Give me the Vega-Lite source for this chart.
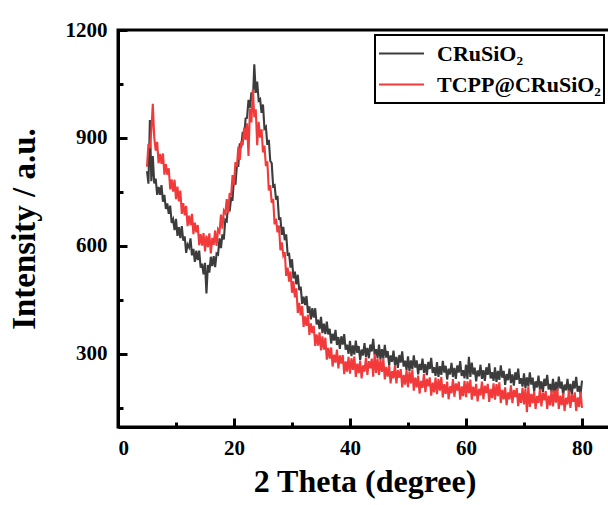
{
  "$schema": "https://vega.github.io/schema/vega-lite/v6.json",
  "width": 493,
  "height": 397,
  "autosize": {"type": "none"},
  "padding": {"left": 118, "top": 30, "right": 0, "bottom": 78},
  "background": "white",
  "config": {
    "view": {"stroke": "black", "strokeWidth": 3},
    "font": "Liberation Serif",
    "axis": {
      "grid": false,
      "domainColor": "black",
      "domainWidth": 3,
      "tickColor": "black",
      "tickWidth": 3,
      "labelFont": "Liberation Serif",
      "labelFontWeight": "bold",
      "labelFontSize": 21,
      "labelColor": "black",
      "titleFont": "Liberation Serif",
      "titleFontWeight": "bold",
      "titleFontSize": 32,
      "titleColor": "black"
    },
    "legend": {
      "orient": "none",
      "legendX": 257,
      "legendY": 5,
      "title": null,
      "symbolType": "stroke",
      "symbolSize": 2025,
      "symbolStrokeWidth": 2,
      "labelFont": "Liberation Serif",
      "labelFontWeight": "bold",
      "labelFontSize": 22,
      "labelColor": "black",
      "labelOffset": 12,
      "labelLimit": 400,
      "strokeColor": "black",
      "strokeWidth": 2,
      "padding": 3,
      "clipHeight": 31,
      "rowPadding": 0
    }
  },
  "datasets": {
    "crusio2": [
      {"x":5,"y":808},{"x":5.25,"y":773},{"x":5.5,"y":950},{"x":5.75,"y":780},{"x":6,"y":850},{"x":6.25,"y":774},{"x":6.5,"y":787},{"x":6.75,"y":742},{"x":7,"y":764},{"x":7.25,"y":742},{"x":7.5,"y":769},{"x":7.75,"y":723},{"x":8,"y":742},{"x":8.25,"y":703},{"x":8.5,"y":718},{"x":8.75,"y":689},{"x":9,"y":712},{"x":9.25,"y":664},{"x":9.5,"y":674},{"x":9.75,"y":644},{"x":10,"y":675},{"x":10.25,"y":628},{"x":10.5,"y":652},{"x":10.75,"y":622},{"x":11,"y":655},{"x":11.25,"y":615},{"x":11.5,"y":627},{"x":11.75,"y":581},{"x":12,"y":604},{"x":12.25,"y":596},{"x":12.5,"y":621},{"x":12.75,"y":574},{"x":13,"y":592},{"x":13.25,"y":556},{"x":13.5,"y":587},{"x":13.75,"y":561},{"x":14,"y":587},{"x":14.25,"y":540},{"x":14.5,"y":551},{"x":14.75,"y":521},{"x":15,"y":553},{"x":15.25,"y":468},{"x":15.5,"y":547},{"x":15.75,"y":526},{"x":16,"y":570},{"x":16.25,"y":544},{"x":16.5,"y":572},{"x":16.75,"y":541},{"x":17,"y":579},{"x":17.25,"y":576},{"x":17.5,"y":621},{"x":17.75,"y":594},{"x":18,"y":632},{"x":18.25,"y":618},{"x":18.5,"y":673},{"x":18.75,"y":669},{"x":19,"y":717},{"x":19.25,"y":696},{"x":19.5,"y":733},{"x":19.75,"y":730},{"x":20,"y":788},{"x":20.25,"y":770},{"x":20.5,"y":824},{"x":20.75,"y":823},{"x":21,"y":885},{"x":21.25,"y":874},{"x":21.5,"y":917},{"x":21.75,"y":902},{"x":22,"y":954},{"x":22.25,"y":956},{"x":22.5,"y":1006},{"x":22.75,"y":984},{"x":23,"y":1027},{"x":23.25,"y":1002},{"x":23.5,"y":1105},{"x":23.75,"y":1025},{"x":24,"y":1057},{"x":24.25,"y":1004},{"x":24.5,"y":1008},{"x":24.75,"y":970},{"x":25,"y":993},{"x":25.25,"y":926},{"x":25.5,"y":931},{"x":25.75,"y":881},{"x":26,"y":895},{"x":26.25,"y":836},{"x":26.5,"y":830},{"x":26.75,"y":766},{"x":27,"y":769},{"x":27.25,"y":729},{"x":27.5,"y":739},{"x":27.75,"y":676},{"x":28,"y":677},{"x":28.25,"y":631},{"x":28.5,"y":653},{"x":28.75,"y":616},{"x":29,"y":632},{"x":29.25,"y":576},{"x":29.5,"y":578},{"x":29.75,"y":540},{"x":30,"y":563},{"x":30.25,"y":510},{"x":30.5,"y":529},{"x":30.75,"y":493},{"x":31,"y":520},{"x":31.25,"y":477},{"x":31.5,"y":487},{"x":31.75,"y":439},{"x":32,"y":459},{"x":32.25,"y":436},{"x":32.5,"y":461},{"x":32.75,"y":414},{"x":33,"y":432},{"x":33.25,"y":396},{"x":33.5,"y":427},{"x":33.75,"y":401},{"x":34,"y":427},{"x":34.25,"y":382},{"x":34.5,"y":395},{"x":34.75,"y":369},{"x":35,"y":403},{"x":35.25,"y":358},{"x":35.5,"y":384},{"x":35.75,"y":355},{"x":36,"y":390},{"x":36.25,"y":354},{"x":36.5,"y":370},{"x":36.75,"y":329},{"x":37,"y":356},{"x":37.25,"y":337},{"x":37.5,"y":367},{"x":37.75,"y":325},{"x":38,"y":347},{"x":38.25,"y":314},{"x":38.5,"y":349},{"x":38.75,"y":326},{"x":39,"y":355},{"x":39.25,"y":312},{"x":39.5,"y":326},{"x":39.75,"y":300},{"x":40,"y":336},{"x":40.25,"y":294},{"x":40.5,"y":324},{"x":40.75,"y":298},{"x":41,"y":337},{"x":41.25,"y":303},{"x":41.5,"y":322},{"x":41.75,"y":283},{"x":42,"y":312},{"x":42.25,"y":296},{"x":42.5,"y":330},{"x":42.75,"y":292},{"x":43,"y":317},{"x":43.25,"y":288},{"x":43.5,"y":326},{"x":43.75,"y":307},{"x":44,"y":342},{"x":44.25,"y":297},{"x":44.5,"y":313},{"x":44.75,"y":289},{"x":45,"y":326},{"x":45.25,"y":284},{"x":45.5,"y":313},{"x":45.75,"y":287},{"x":46,"y":325},{"x":46.25,"y":290},{"x":46.5,"y":308},{"x":46.75,"y":268},{"x":47,"y":296},{"x":47.25,"y":278},{"x":47.5,"y":309},{"x":47.75,"y":269},{"x":48,"y":292},{"x":48.25,"y":261},{"x":48.5,"y":297},{"x":48.75,"y":276},{"x":49,"y":307},{"x":49.25,"y":265},{"x":49.5,"y":281},{"x":49.75,"y":256},{"x":50,"y":293},{"x":50.25,"y":252},{"x":50.5,"y":282},{"x":50.75,"y":257},{"x":51,"y":296},{"x":51.25,"y":262},{"x":51.5,"y":282},{"x":51.75,"y":243},{"x":52,"y":272},{"x":52.25,"y":255},{"x":52.5,"y":287},{"x":52.75,"y":247},{"x":53,"y":272},{"x":53.25,"y":241},{"x":53.5,"y":278},{"x":53.75,"y":258},{"x":54,"y":289},{"x":54.25,"y":247},{"x":54.5,"y":263},{"x":54.75,"y":239},{"x":55,"y":277},{"x":55.25,"y":236},{"x":55.5,"y":266},{"x":55.75,"y":242},{"x":56,"y":281},{"x":56.25,"y":248},{"x":56.5,"y":267},{"x":56.75,"y":229},{"x":57,"y":259},{"x":57.25,"y":243},{"x":57.5,"y":275},{"x":57.75,"y":236},{"x":58,"y":261},{"x":58.25,"y":231},{"x":58.5,"y":268},{"x":58.75,"y":248},{"x":59,"y":280},{"x":59.25,"y":239},{"x":59.5,"y":255},{"x":59.75,"y":232},{"x":60,"y":270},{"x":60.25,"y":230},{"x":60.5,"y":292},{"x":60.75,"y":236},{"x":61,"y":276},{"x":61.25,"y":243},{"x":61.5,"y":262},{"x":61.75,"y":224},{"x":62,"y":254},{"x":62.25,"y":238},{"x":62.5,"y":270},{"x":62.75,"y":231},{"x":63,"y":255},{"x":63.25,"y":225},{"x":63.5,"y":263},{"x":63.75,"y":242},{"x":64,"y":274},{"x":64.25,"y":232},{"x":64.5,"y":249},{"x":64.75,"y":225},{"x":65,"y":263},{"x":65.25,"y":222},{"x":65.5,"y":253},{"x":65.75,"y":228},{"x":66,"y":268},{"x":66.25,"y":234},{"x":66.5,"y":253},{"x":66.75,"y":214},{"x":67,"y":244},{"x":67.25,"y":227},{"x":67.5,"y":259},{"x":67.75,"y":219},{"x":68,"y":243},{"x":68.25,"y":212},{"x":68.5,"y":249},{"x":68.75,"y":228},{"x":69,"y":259},{"x":69.25,"y":217},{"x":69.5,"y":233},{"x":69.75,"y":209},{"x":70,"y":246},{"x":70.25,"y":205},{"x":70.5,"y":235},{"x":70.75,"y":210},{"x":71,"y":249},{"x":71.25,"y":215},{"x":71.5,"y":234},{"x":71.75,"y":195},{"x":72,"y":224},{"x":72.25,"y":207},{"x":72.5,"y":240},{"x":72.75,"y":200},{"x":73,"y":224},{"x":73.25,"y":194},{"x":73.5,"y":231},{"x":73.75,"y":211},{"x":74,"y":242},{"x":74.25,"y":201},{"x":74.5,"y":217},{"x":74.75,"y":194},{"x":75,"y":231},{"x":75.25,"y":191},{"x":75.5,"y":222},{"x":75.75,"y":197},{"x":76,"y":237},{"x":76.25,"y":204},{"x":76.5,"y":223},{"x":76.75,"y":185},{"x":77,"y":215},{"x":77.25,"y":199},{"x":77.5,"y":231},{"x":77.75,"y":192},{"x":78,"y":217},{"x":78.25,"y":187},{"x":78.5,"y":225},{"x":78.75,"y":204},{"x":79,"y":236},{"x":79.25,"y":195},{"x":79.5,"y":211},{"x":79.75,"y":188},{"x":80,"y":226}
    ],
    "tcpp": [
      {"x":5,"y":820},{"x":5.25,"y":884},{"x":5.5,"y":872},{"x":5.75,"y":920},{"x":6,"y":995},{"x":6.25,"y":901},{"x":6.5,"y":865},{"x":6.75,"y":889},{"x":7,"y":830},{"x":7.25,"y":856},{"x":7.5,"y":828},{"x":7.75,"y":857},{"x":8,"y":798},{"x":8.25,"y":827},{"x":8.5,"y":798},{"x":8.75,"y":816},{"x":9,"y":757},{"x":9.25,"y":785},{"x":9.5,"y":751},{"x":9.75,"y":784},{"x":10,"y":730},{"x":10.25,"y":765},{"x":10.5,"y":724},{"x":10.75,"y":754},{"x":11,"y":689},{"x":11.25,"y":719},{"x":11.5,"y":685},{"x":11.75,"y":711},{"x":12,"y":655},{"x":12.25,"y":684},{"x":12.5,"y":658},{"x":12.75,"y":689},{"x":13,"y":633},{"x":13.25,"y":665},{"x":13.5,"y":638},{"x":13.75,"y":658},{"x":14,"y":602},{"x":14.25,"y":633},{"x":14.5,"y":601},{"x":14.75,"y":636},{"x":15,"y":585},{"x":15.25,"y":629},{"x":15.5,"y":597},{"x":15.75,"y":635},{"x":16,"y":579},{"x":16.25,"y":622},{"x":16.5,"y":603},{"x":16.75,"y":643},{"x":17,"y":600},{"x":17.25,"y":646},{"x":17.5,"y":638},{"x":17.75,"y":687},{"x":18,"y":648},{"x":18.25,"y":698},{"x":18.5,"y":691},{"x":18.75,"y":730},{"x":19,"y":692},{"x":19.25,"y":747},{"x":19.5,"y":738},{"x":19.75,"y":797},{"x":20,"y":770},{"x":20.25,"y":833},{"x":20.5,"y":820},{"x":20.75,"y":876},{"x":21,"y":839},{"x":21.25,"y":891},{"x":21.5,"y":880},{"x":21.75,"y":929},{"x":22,"y":895},{"x":22.25,"y":941},{"x":22.5,"y":850},{"x":22.75,"y":982},{"x":23,"y":943},{"x":23.25,"y":1035},{"x":23.5,"y":958},{"x":23.75,"y":980},{"x":24,"y":880},{"x":24.25,"y":945},{"x":24.5,"y":901},{"x":24.75,"y":924},{"x":25,"y":860},{"x":25.25,"y":879},{"x":25.5,"y":822},{"x":25.75,"y":835},{"x":26,"y":754},{"x":26.25,"y":769},{"x":26.5,"y":720},{"x":26.75,"y":731},{"x":27,"y":660},{"x":27.25,"y":676},{"x":27.5,"y":638},{"x":27.75,"y":657},{"x":28,"y":588},{"x":28.25,"y":610},{"x":28.5,"y":574},{"x":28.75,"y":583},{"x":29,"y":517},{"x":29.25,"y":540},{"x":29.5,"y":501},{"x":29.75,"y":529},{"x":30,"y":470},{"x":30.25,"y":502},{"x":30.5,"y":457},{"x":30.75,"y":482},{"x":31,"y":414},{"x":31.25,"y":442},{"x":31.5,"y":407},{"x":31.75,"y":433},{"x":32,"y":375},{"x":32.25,"y":404},{"x":32.5,"y":378},{"x":32.75,"y":409},{"x":33,"y":353},{"x":33.25,"y":385},{"x":33.5,"y":358},{"x":33.75,"y":378},{"x":34,"y":322},{"x":34.25,"y":354},{"x":34.5,"y":323},{"x":34.75,"y":360},{"x":35,"y":310},{"x":35.25,"y":349},{"x":35.5,"y":312},{"x":35.75,"y":345},{"x":36,"y":284},{"x":36.25,"y":317},{"x":36.5,"y":287},{"x":36.75,"y":318},{"x":37,"y":265},{"x":37.25,"y":298},{"x":37.5,"y":276},{"x":37.75,"y":312},{"x":38,"y":260},{"x":38.25,"y":296},{"x":38.5,"y":273},{"x":38.75,"y":297},{"x":39,"y":244},{"x":39.25,"y":279},{"x":39.5,"y":251},{"x":39.75,"y":292},{"x":40,"y":245},{"x":40.25,"y":288},{"x":40.5,"y":256},{"x":40.75,"y":293},{"x":41,"y":236},{"x":41.25,"y":273},{"x":41.5,"y":247},{"x":41.75,"y":281},{"x":42,"y":232},{"x":42.25,"y":268},{"x":42.5,"y":251},{"x":42.75,"y":290},{"x":43,"y":242},{"x":43.25,"y":280},{"x":43.5,"y":260},{"x":43.75,"y":287},{"x":44,"y":237},{"x":44.25,"y":300},{"x":44.5,"y":247},{"x":44.75,"y":288},{"x":45,"y":242},{"x":45.25,"y":284},{"x":45.5,"y":250},{"x":45.75,"y":287},{"x":46,"y":229},{"x":46.25,"y":264},{"x":46.5,"y":237},{"x":46.75,"y":269},{"x":47,"y":218},{"x":47.25,"y":252},{"x":47.5,"y":232},{"x":47.75,"y":269},{"x":48,"y":218},{"x":48.25,"y":255},{"x":48.5,"y":234},{"x":48.75,"y":258},{"x":49,"y":207},{"x":49.25,"y":242},{"x":49.5,"y":215},{"x":49.75,"y":255},{"x":50,"y":208},{"x":50.25,"y":251},{"x":50.5,"y":218},{"x":50.75,"y":255},{"x":51,"y":198},{"x":51.25,"y":234},{"x":51.5,"y":207},{"x":51.75,"y":240},{"x":52,"y":190},{"x":52.25,"y":225},{"x":52.5,"y":206},{"x":52.75,"y":244},{"x":53,"y":194},{"x":53.25,"y":231},{"x":53.5,"y":210},{"x":53.75,"y":235},{"x":54,"y":184},{"x":54.25,"y":220},{"x":54.5,"y":193},{"x":54.75,"y":234},{"x":55,"y":188},{"x":55.25,"y":231},{"x":55.5,"y":198},{"x":55.75,"y":236},{"x":56,"y":179},{"x":56.25,"y":216},{"x":56.5,"y":189},{"x":56.75,"y":223},{"x":57,"y":174},{"x":57.25,"y":210},{"x":57.5,"y":191},{"x":57.75,"y":230},{"x":58,"y":181},{"x":58.25,"y":218},{"x":58.5,"y":198},{"x":58.75,"y":223},{"x":59,"y":173},{"x":59.25,"y":210},{"x":59.5,"y":183},{"x":59.75,"y":225},{"x":60,"y":180},{"x":60.25,"y":224},{"x":60.5,"y":191},{"x":60.75,"y":229},{"x":61,"y":173},{"x":61.25,"y":209},{"x":61.5,"y":183},{"x":61.75,"y":217},{"x":62,"y":168},{"x":62.25,"y":203},{"x":62.5,"y":185},{"x":62.75,"y":223},{"x":63,"y":174},{"x":63.25,"y":212},{"x":63.5,"y":191},{"x":63.75,"y":217},{"x":64,"y":167},{"x":64.25,"y":203},{"x":64.5,"y":177},{"x":64.75,"y":218},{"x":65,"y":173},{"x":65.25,"y":216},{"x":65.5,"y":183},{"x":65.75,"y":221},{"x":66,"y":164},{"x":66.25,"y":200},{"x":66.5,"y":174},{"x":66.75,"y":207},{"x":67,"y":158},{"x":67.25,"y":193},{"x":67.5,"y":174},{"x":67.75,"y":213},{"x":68,"y":163},{"x":68.25,"y":200},{"x":68.5,"y":180},{"x":68.75,"y":205},{"x":69,"y":155},{"x":69.25,"y":191},{"x":69.5,"y":164},{"x":69.75,"y":206},{"x":70,"y":160},{"x":70.25,"y":204},{"x":70.5,"y":138},{"x":70.75,"y":209},{"x":71,"y":153},{"x":71.25,"y":189},{"x":71.5,"y":163},{"x":71.75,"y":196},{"x":72,"y":147},{"x":72.25,"y":183},{"x":72.5,"y":164},{"x":72.75,"y":203},{"x":73,"y":154},{"x":73.25,"y":192},{"x":73.5,"y":171},{"x":73.75,"y":197},{"x":74,"y":147},{"x":74.25,"y":184},{"x":74.5,"y":157},{"x":74.75,"y":199},{"x":75,"y":154},{"x":75.25,"y":198},{"x":75.5,"y":165},{"x":75.75,"y":203},{"x":76,"y":147},{"x":76.25,"y":184},{"x":76.5,"y":158},{"x":76.75,"y":192},{"x":77,"y":142},{"x":77.25,"y":178},{"x":77.5,"y":160},{"x":77.75,"y":199},{"x":78,"y":150},{"x":78.25,"y":187},{"x":78.5,"y":167},{"x":78.75,"y":193},{"x":79,"y":142},{"x":79.25,"y":179},{"x":79.5,"y":153},{"x":79.75,"y":195},{"x":80,"y":150}
    ]
  },
  "resolve": {"scale": {"x": "independent", "y": "independent"}, "axis": {"x": "independent", "y": "independent"}},
  "layer": [
    {
      "data": {"name": "crusio2"},
      "mark": {"type": "line", "strokeWidth": 2.1, "clip": true},
      "encoding": {
        "x": {
          "field": "x", "type": "quantitative",
          "scale": {"domain": [0, 85], "nice": false, "zero": false},
          "axis": {
            "orient": "bottom",
            "title": "2 Theta (degree)",
            "values": [0, 20, 40, 60, 80],
            "tickSize": -9,
            "labelPadding": 19,
            "titlePadding": 8,
            "zindex": 2
          }
        },
        "y": {
          "field": "y", "type": "quantitative",
          "scale": {"domain": [97, 1200], "nice": false, "zero": false},
          "axis": {
            "orient": "left",
            "title": "Intensity / a.u.",
            "values": [300, 600, 900, 1200],
            "format": "d",
            "tickSize": -9,
            "labelPadding": 20,
            "titlePadding": 24,
            "titleFontSize": 33,
            "zindex": 2
          }
        },
        "color": {
          "datum": "CRuSiO₂",
          "type": "nominal",
          "scale": {"domain": ["CRuSiO₂", "TCPP@CRuSiO₂"], "range": ["#3c3c3c", "#f23a3a"]}
        }
      }
    },
    {
      "data": {"name": "tcpp"},
      "mark": {"type": "line", "strokeWidth": 2.1, "clip": true},
      "encoding": {
        "x": {
          "field": "x", "type": "quantitative",
          "scale": {"domain": [0, 85], "nice": false, "zero": false},
          "axis": {"orient": "bottom", "title": null, "values": [10, 30, 50, 70], "tickSize": -5, "labels": false, "domain": false, "zindex": 2}
        },
        "y": {
          "field": "y", "type": "quantitative",
          "scale": {"domain": [97, 1200], "nice": false, "zero": false},
          "axis": {"orient": "left", "title": null, "values": [150, 450, 750, 1050], "tickSize": -5, "labels": false, "domain": false, "zindex": 2}
        },
        "color": {"datum": "TCPP@CRuSiO₂", "type": "nominal"}
      }
    }
  ]
}
